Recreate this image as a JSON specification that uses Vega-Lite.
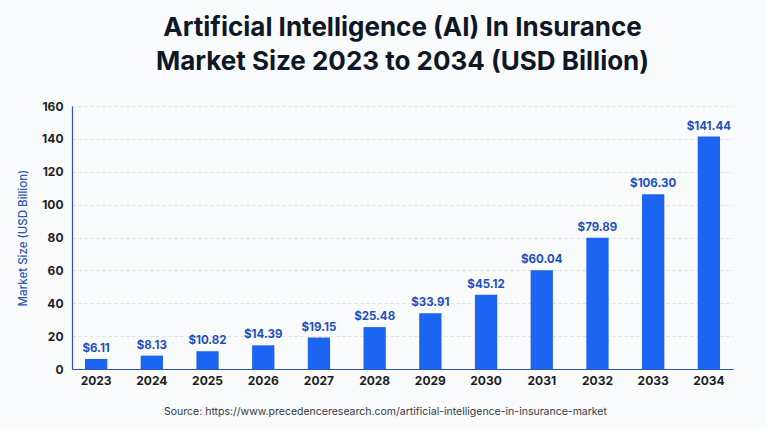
{
  "$schema": "https://vega.github.io/schema/vega-lite/v6.json",
  "width": 661,
  "height": 263,
  "padding": {"left": 17, "top": 15, "right": 33, "bottom": 12},
  "background": "#fafbfc",
  "title": {
    "text": ["Artificial Intelligence (AI) In Insurance", "Market Size 2023 to 2034 (USD Billion)"],
    "font": "Inter",
    "fontSize": 26,
    "fontWeight": "bold",
    "color": "#0e1726",
    "lineHeight": 34,
    "anchor": "middle",
    "frame": "group",
    "offset": 25
  },
  "data": {
    "values": [
      {"year": "2023", "value": 6.11},
      {"year": "2024", "value": 8.13},
      {"year": "2025", "value": 10.82},
      {"year": "2026", "value": 14.39},
      {"year": "2027", "value": 19.15},
      {"year": "2028", "value": 25.48},
      {"year": "2029", "value": 33.91},
      {"year": "2030", "value": 45.12},
      {"year": "2031", "value": 60.04},
      {"year": "2032", "value": 79.89},
      {"year": "2033", "value": 106.30},
      {"year": "2034", "value": 141.44}
    ]
  },
  "encoding": {
    "x": {
      "field": "year",
      "type": "nominal",
      "sort": null,
      "scale": {"paddingInner": 0.6, "paddingOuter": 0.233},
      "axis": {
        "title": "Source: https://www.precedenceresearch.com/artificial-intelligence-in-insurance-market",
        "titleFont": "Inter",
        "titleFontSize": 10.5,
        "titleFontWeight": "normal",
        "titleColor": "#333a45",
        "titlePadding": 20,
        "titleX": 313,
        "titleAlign": "center",
        "labelAngle": 0,
        "labelFont": "Inter",
        "labelFontSize": 12,
        "labelFontWeight": "bold",
        "labelColor": "#1a1d26",
        "labelPadding": 6,
        "ticks": false,
        "domainColor": "#2b55b8",
        "domainWidth": 1.2
      }
    },
    "y": {
      "field": "value",
      "type": "quantitative",
      "scale": {"domain": [0, 160]},
      "axis": {
        "title": "Market Size (USD Billion)",
        "titleFont": "Inter",
        "titleFontSize": 11.5,
        "titleFontWeight": 500,
        "titleColor": "#2b55b8",
        "titlePadding": 13,
        "values": [0, 20, 40, 60, 80, 100, 120, 140, 160],
        "labelFont": "Inter",
        "labelFontSize": 12,
        "labelFontWeight": "bold",
        "labelColor": "#1a1d26",
        "labelPadding": 9,
        "ticks": false,
        "domainColor": "#2b55b8",
        "domainWidth": 1.2,
        "gridColor": "#dcdfe4",
        "gridDash": [3, 3]
      }
    }
  },
  "layer": [
    {"mark": {"type": "bar", "color": "#1c64f2"}},
    {
      "mark": {"type": "text", "dy": -10, "font": "Inter", "fontSize": 11.5, "fontWeight": "bold", "color": "#1d4fc4"},
      "encoding": {"text": {"field": "value", "type": "quantitative", "format": "$.2f"}}
    }
  ],
  "config": {"view": {"stroke": null}}
}
